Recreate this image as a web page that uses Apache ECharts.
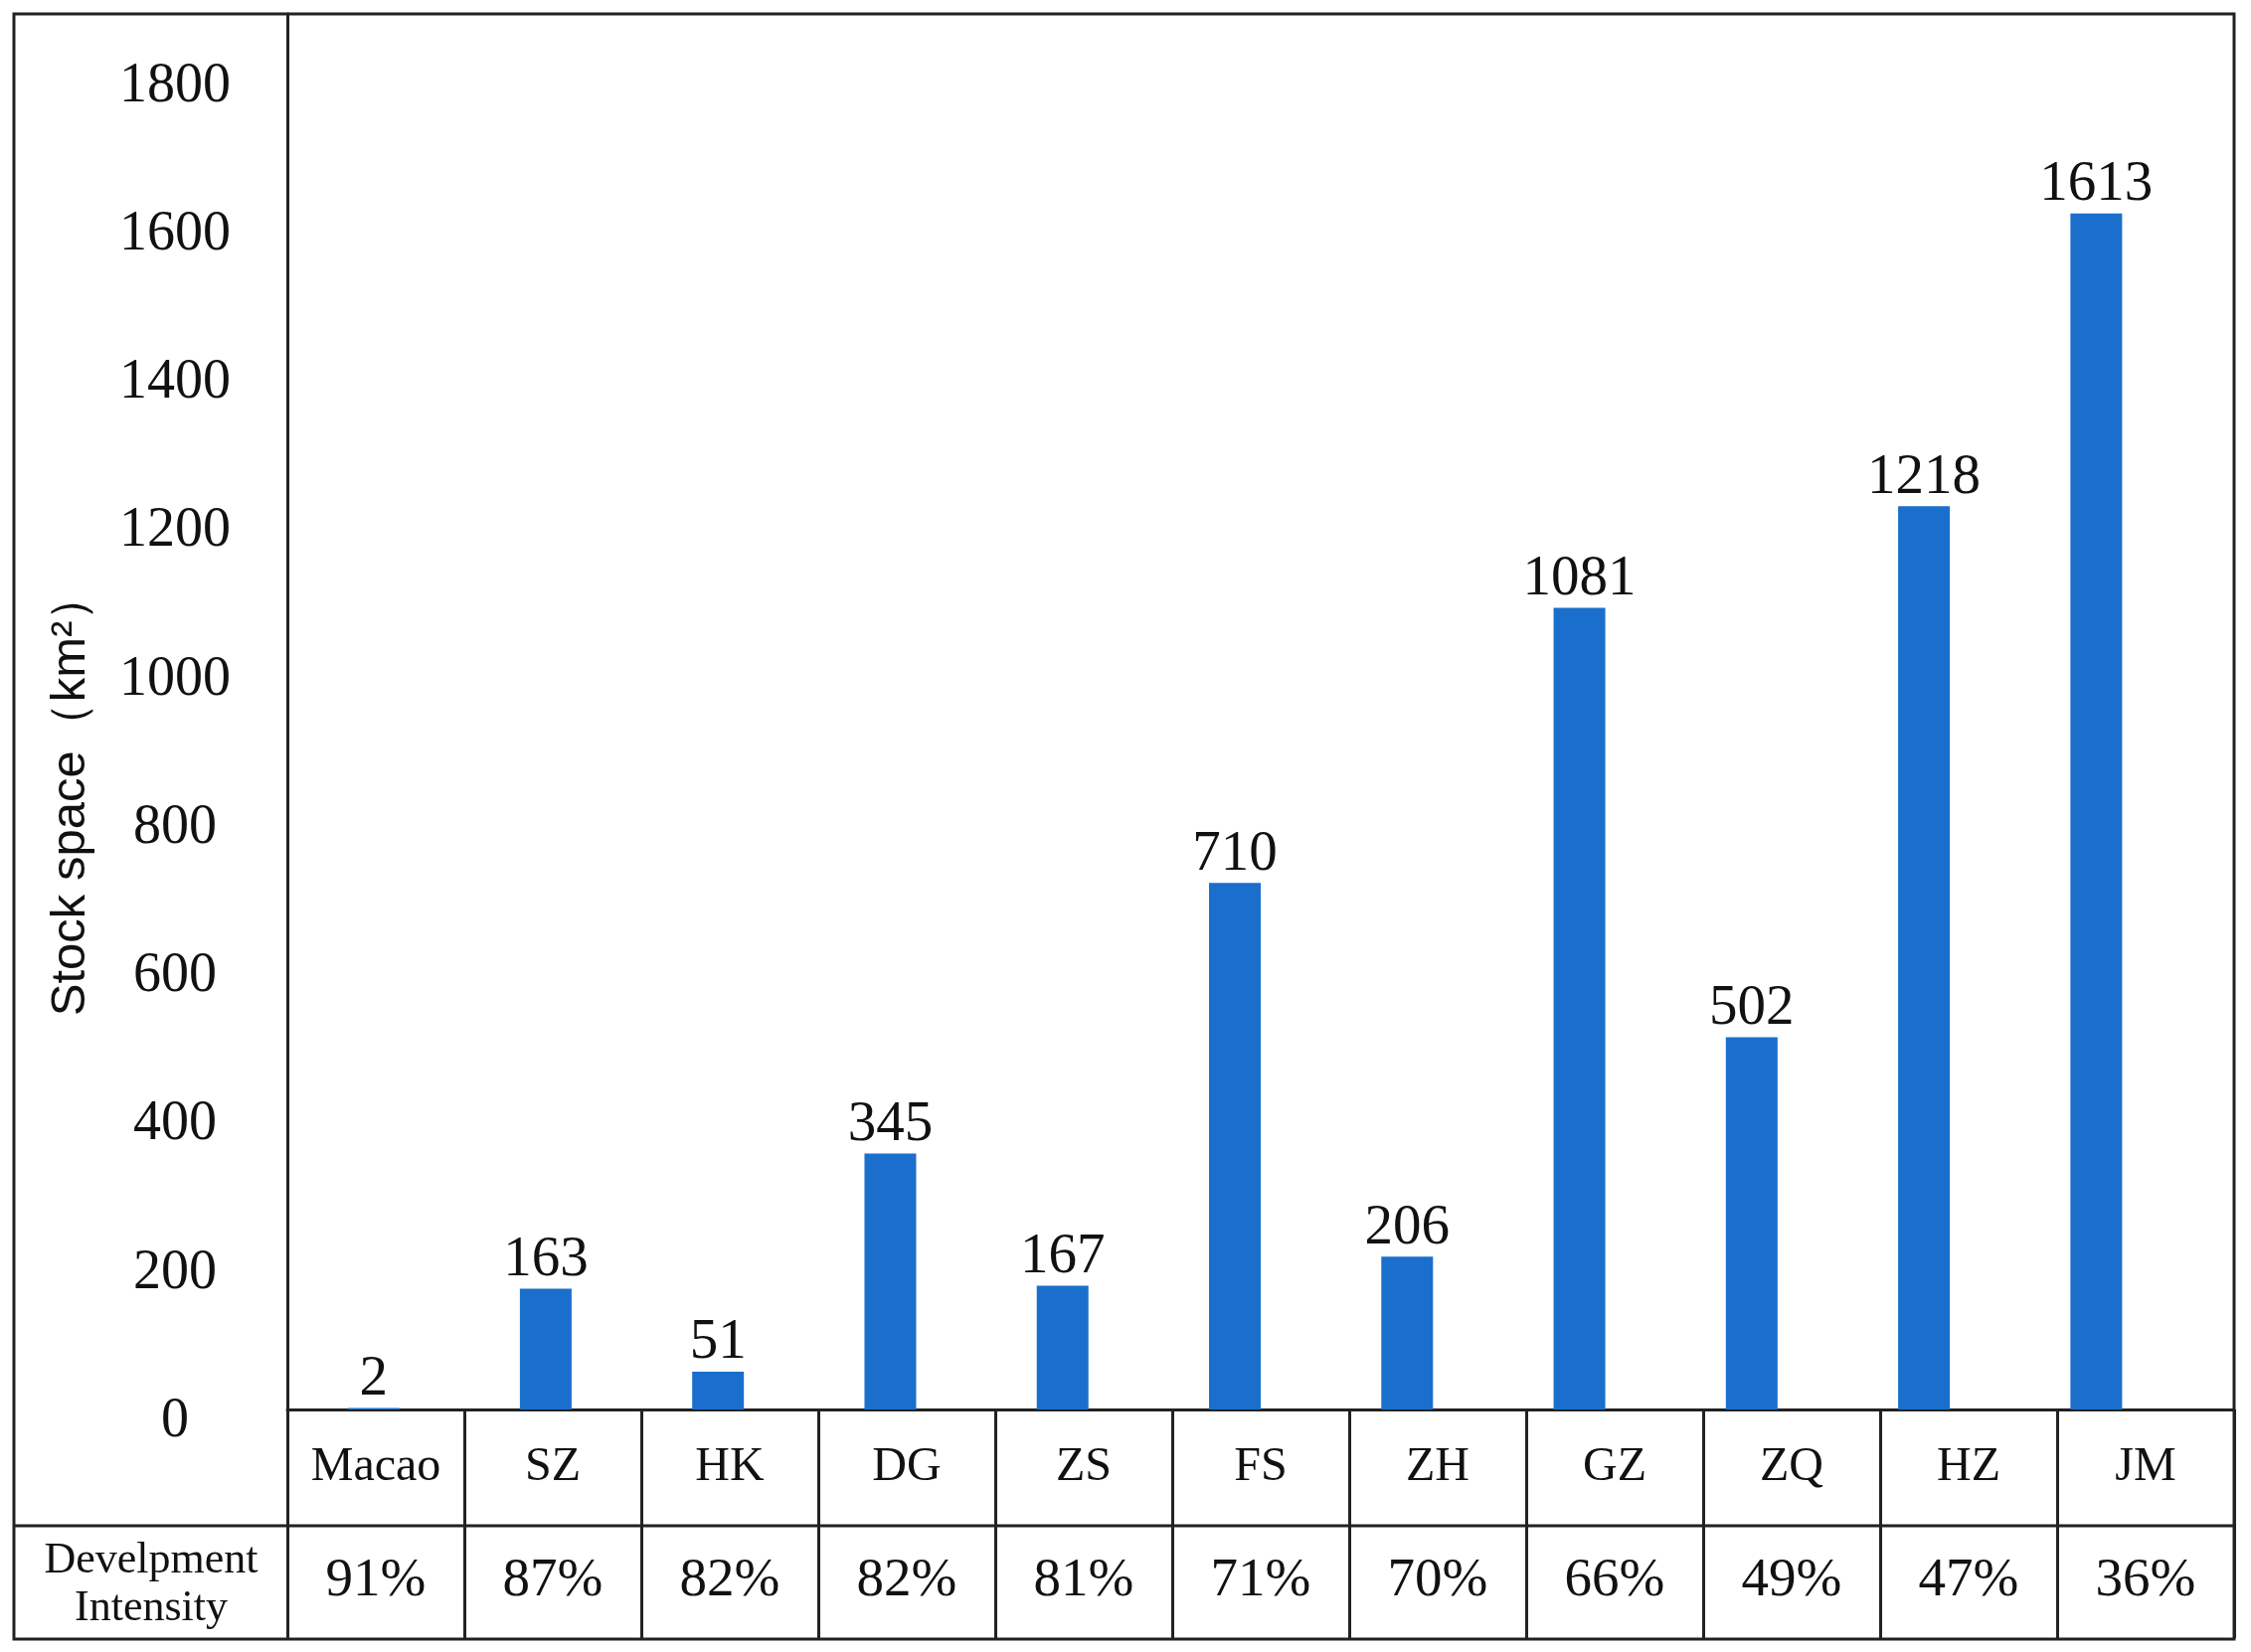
<!DOCTYPE html>
<html>
<head>
<meta charset="utf-8">
<script src="https://cdn.jsdelivr.net/npm/echarts@6/dist/echarts.min.js"></script>
<style>
html,body{margin:0;padding:0;background:#fff;}
#chart{width:2264px;height:1662px;}
</style>
</head>
<body>
<div id="chart"></div>
<script>
const categories = ['Macao','SZ','HK','DG','ZS','FS','ZH','GZ','ZQ','HZ','JM'];
const stockSpace = [2,163,51,345,167,710,206,1081,502,1218,1613];
const intensity = ['91%','87%','82%','82%','81%','71%','70%','66%','49%','47%','36%'];
const yTicks = [0,200,400,600,800,1000,1200,1400,1600,1800];

const serif = '"Liberation Serif","Times New Roman",serif';
const lineColor = '#222';
const chart = echarts.init(document.getElementById('chart'));
chart.setOption({
  backgroundColor:'#fff',
  animation:false,
  grid:[
    {left:289,right:69,top:14,bottom:244},
    {left:289,right:17,top:1418,bottom:14}
  ],
  xAxis:[
    {type:'category',gridIndex:0,data:categories,position:'bottom',
     axisLine:{show:false},axisTick:{show:false},axisLabel:{show:false}},
    {type:'category',gridIndex:1,data:categories,position:'top',
     axisLine:{show:true,onZero:false,lineStyle:{color:lineColor,width:3}},
     axisTick:{show:false},
     splitLine:{show:true,lineStyle:{color:lineColor,width:3}},
     axisLabel:{inside:true,margin:58,verticalAlign:'middle',fontFamily:serif,fontSize:48,color:'#111'}},
    {type:'category',gridIndex:1,data:intensity,position:'top',
     axisLine:{show:false,onZero:false},axisTick:{show:false},
     axisLabel:{inside:true,margin:173,verticalAlign:'middle',fontFamily:serif,fontSize:55,color:'#111'}}
  ],
  yAxis:[
    {type:'value',gridIndex:0,min:0,max:1882,interval:200,
     name:'Stock space（km²）',nameLocation:'middle',nameGap:193,nameRotate:90,
     nameTextStyle:{fontFamily:'"Liberation Sans",Arial,sans-serif',fontSize:49,color:'#111',
       padding:[0,166,0,0]},
     axisLine:{show:true,lineStyle:{color:lineColor,width:3}},
     axisTick:{show:false},splitLine:{show:false},
     axisLabel:{showMaxLabel:false,align:'center',verticalAlign:'top',lineHeight:24,margin:113,
       fontFamily:serif,fontSize:56,color:'#111',
       formatter:function(v){return yTicks.indexOf(v)>=0?String(v):'';}}},
    {type:'value',gridIndex:1,show:false}
  ],
  graphic:[
    {type:'rect',shape:{x:14,y:14,width:2233,height:1635},
     style:{fill:'none',stroke:lineColor,lineWidth:3},z:100},
    {type:'line',shape:{x1:14,y1:1535,x2:2247,y2:1535},
     style:{stroke:lineColor,lineWidth:3},z:100},
    {type:'text',x:152,y:1594,z:100,
     style:{text:'Develpment\nIntensity',fontFamily:serif,fontSize:44,lineHeight:48,
       fill:'#111',align:'center',verticalAlign:'middle'}}
  ],
  series:[
    {type:'bar',xAxisIndex:0,yAxisIndex:0,data:stockSpace,barWidth:52,
     itemStyle:{color:'#1a6fcd'},
     label:{show:true,position:'top',distance:0,fontFamily:serif,fontSize:57,color:'#111'}}
  ]
});
</script>
</body>
</html>
